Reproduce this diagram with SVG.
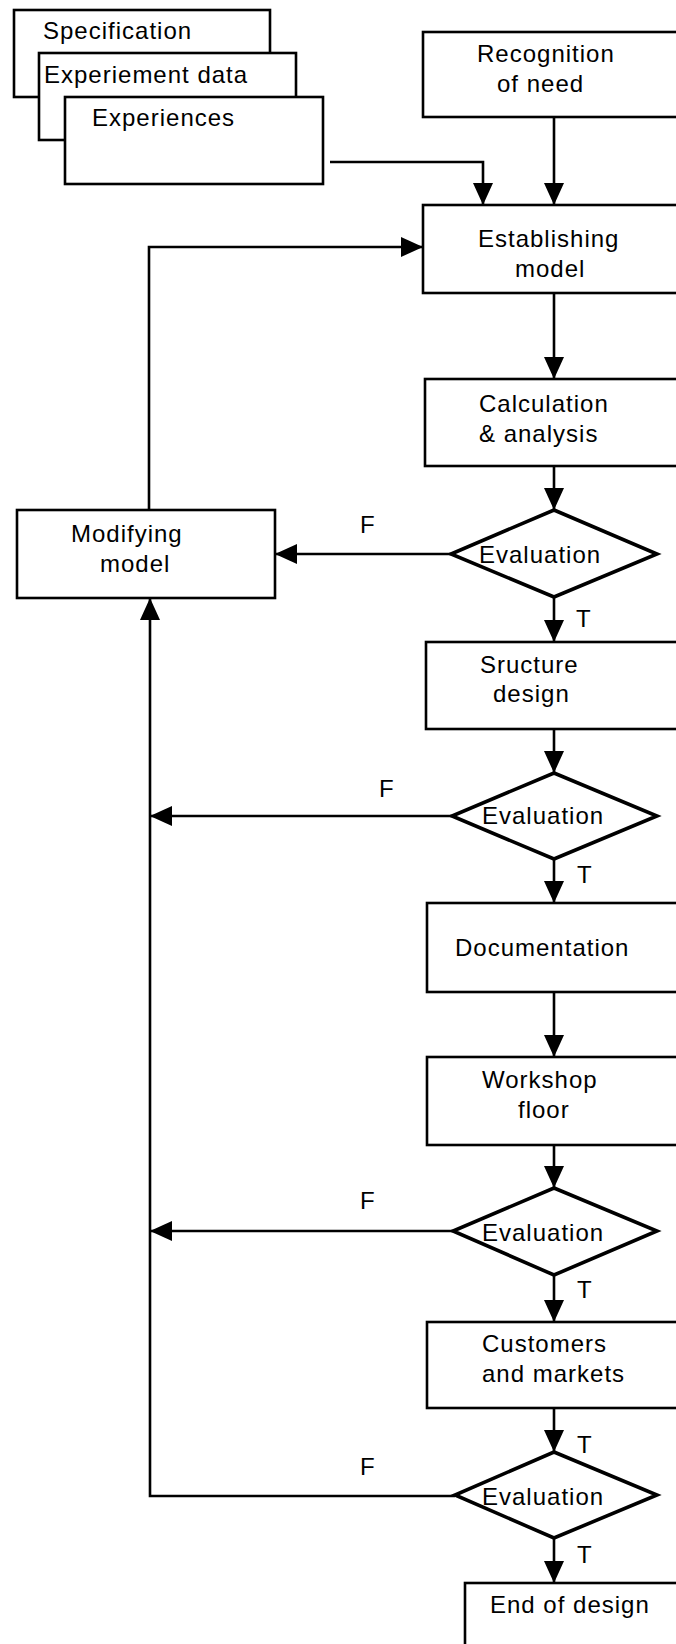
<svg xmlns="http://www.w3.org/2000/svg" width="676" height="1644" viewBox="0 0 676 1644">
  <style>
    .box { fill: #fff; stroke: #000; stroke-width: 2.6; }
    .dia { fill: #fff; stroke: #000; stroke-width: 3.6; stroke-linejoin: miter; }
    .lbl { font-family: "Liberation Sans", Arial, sans-serif; font-size: 24px; letter-spacing: 1px; fill: #000; }
    .edge { fill: none; stroke: #000; stroke-width: 2.6; }
  </style>
  <defs>
    <marker id="arrow" markerUnits="userSpaceOnUse" markerWidth="22" markerHeight="20" refX="22" refY="10" orient="auto">
      <path d="M0,0 L22,10 L0,20 z" fill="#000"/>
    </marker>
  </defs>
  <rect width="676" height="1644" fill="#fff"/>

  <!-- input documents stack -->
  <g id="specification">
    <rect class="box" x="14" y="10" width="256" height="87"/>
    <text class="lbl" x="43" y="39">Specification</text>
  </g>
  <g id="experiment-data">
    <rect class="box" x="39" y="53" width="257" height="87"/>
    <text class="lbl" x="44" y="83">Experiement data</text>
  </g>
  <g id="experiences">
    <rect class="box" x="65" y="97" width="258" height="87"/>
    <text class="lbl" x="92" y="126">Experiences</text>
  </g>

  <!-- connectors -->
  <g id="connectors">
    <path class="edge" d="M330,162 H483 V205" marker-end="url(#arrow)"/>
    <path class="edge" d="M554,117 V205" marker-end="url(#arrow)"/>
    <path class="edge" d="M554,293 V379" marker-end="url(#arrow)"/>
    <path class="edge" d="M554,466 V510" marker-end="url(#arrow)"/>
    <path class="edge" d="M451,554 H275" marker-end="url(#arrow)"/>
    <path class="edge" d="M149,510 V247 H423" marker-end="url(#arrow)"/>
    <path class="edge" d="M554,597 V642" marker-end="url(#arrow)"/>
    <path class="edge" d="M554,729 V773" marker-end="url(#arrow)"/>
    <path class="edge" d="M452,816 H150" marker-end="url(#arrow)"/>
    <path class="edge" d="M554,859 V903" marker-end="url(#arrow)"/>
    <path class="edge" d="M554,992 V1057" marker-end="url(#arrow)"/>
    <path class="edge" d="M554,1145 V1188" marker-end="url(#arrow)"/>
    <path class="edge" d="M453,1231 H150" marker-end="url(#arrow)"/>
    <path class="edge" d="M554,1275 V1322" marker-end="url(#arrow)"/>
    <path class="edge" d="M554,1408 V1452" marker-end="url(#arrow)"/>
    <path class="edge" d="M455,1496 H150 V598" marker-end="url(#arrow)"/>
    <path class="edge" d="M554,1538 V1583" marker-end="url(#arrow)"/>
    <text class="lbl" x="360" y="533">F</text>
    <text class="lbl" x="576" y="627">T</text>
    <text class="lbl" x="379" y="797">F</text>
    <text class="lbl" x="577" y="883">T</text>
    <text class="lbl" x="360" y="1209">F</text>
    <text class="lbl" x="577" y="1298">T</text>
    <text class="lbl" x="577" y="1453">T</text>
    <text class="lbl" x="360" y="1475">F</text>
    <text class="lbl" x="577" y="1563">T</text>
  </g>

  <g id="recognition">
    <rect class="box" x="423" y="32" width="280" height="85"/>
    <text class="lbl" x="477" y="62">Recognition</text>
    <text class="lbl" x="497" y="92">of need</text>
  </g>
  <g id="establishing">
    <rect class="box" x="423" y="205" width="280" height="88"/>
    <text class="lbl" x="478" y="247">Establishing</text>
    <text class="lbl" x="515" y="277">model</text>
  </g>
  <g id="calculation">
    <rect class="box" x="425" y="379" width="280" height="87"/>
    <text class="lbl" x="479" y="412">Calculation</text>
    <text class="lbl" x="479" y="442">&amp; analysis</text>
  </g>
  <g id="evaluation-1">
    <polygon class="dia" points="554,510 657,554 554,597 451,554"/>
    <text class="lbl" x="479" y="563">Evaluation</text>
  </g>
  <g id="modifying">
    <rect class="box" x="17" y="510" width="258" height="88"/>
    <text class="lbl" x="71" y="542">Modifying</text>
    <text class="lbl" x="100" y="572">model</text>
  </g>
  <g id="structure">
    <rect class="box" x="426" y="642" width="280" height="87"/>
    <text class="lbl" x="480" y="673">Sructure</text>
    <text class="lbl" x="493" y="702">design</text>
  </g>
  <g id="evaluation-2">
    <polygon class="dia" points="554,773 657,816 554,859 452,816"/>
    <text class="lbl" x="482" y="824">Evaluation</text>
  </g>
  <g id="documentation">
    <rect class="box" x="427" y="903" width="280" height="89"/>
    <text class="lbl" x="455" y="956">Documentation</text>
  </g>
  <g id="workshop">
    <rect class="box" x="427" y="1057" width="280" height="88"/>
    <text class="lbl" x="482" y="1088">Workshop</text>
    <text class="lbl" x="518" y="1118">floor</text>
  </g>
  <g id="evaluation-3">
    <polygon class="dia" points="554,1188 657,1231 554,1275 453,1231"/>
    <text class="lbl" x="482" y="1241">Evaluation</text>
  </g>
  <g id="customers">
    <rect class="box" x="427" y="1322" width="280" height="86"/>
    <text class="lbl" x="482" y="1352">Customers</text>
    <text class="lbl" x="482" y="1382">and markets</text>
  </g>
  <g id="evaluation-4">
    <polygon class="dia" points="554,1452 657,1495 554,1538 455,1495"/>
    <text class="lbl" x="482" y="1505">Evaluation</text>
  </g>
  <g id="end">
    <rect class="box" x="465" y="1583" width="260" height="100"/>
    <text class="lbl" x="490" y="1613">End of design</text>
  </g>
</svg>
